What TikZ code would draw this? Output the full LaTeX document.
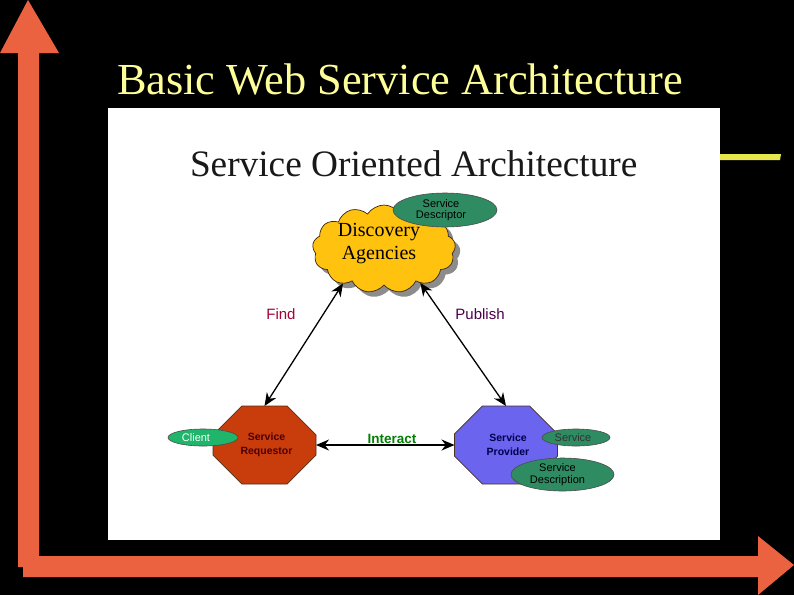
\documentclass[tikz,border=0pt]{standalone}
\usepackage{fontspec}
\setmainfont{Liberation Serif}
\setsansfont{Liberation Sans}
\usetikzlibrary{shapes.geometric, shapes.misc, shapes.symbols, arrows.meta}
\definecolor{slidebar}{HTML}{EB6240}
\definecolor{slidetitle}{HTML}{FFFF99}
\definecolor{slideline}{HTML}{E6E64C}
\definecolor{cloudgold}{HTML}{FFC20E}
\definecolor{reqred}{HTML}{C93C0C}
\definecolor{provblue}{HTML}{6A64EE}
\definecolor{descgreen}{HTML}{2E8B62}
\definecolor{clientgreen}{HTML}{1FB56B}
\tikzset{
    every node/.style={inner sep=0pt, outer sep=0pt, align=center, text=black}
}
\tikzset{
    octa/.style={chamfered rectangle, chamfered rectangle xsep=24pt,
    	chamfered rectangle ysep=17pt, minimum width=103pt, minimum height=78pt,
    	draw=black!60!brown, line width=.8pt, font=\sffamily\bfseries\fontsize{10.5}{14}\selectfont},
    oval/.style={ellipse, draw=black!70, line width=.6pt,
    	font=\sffamily\fontsize{11}{11.5}\selectfont},
    link/.style={line width=1.3pt, {Stealth[length=13pt,width=11pt]}-{Stealth[length=13pt,width=11pt]}},
    tag/.style={font=\sffamily\fontsize{15}{17}\selectfont},
    puff/.style={cloud, cloud puffs=13, cloud puff arc=115, aspect=1.7,
    	minimum width=143pt, minimum height=88pt}
}
\begin{document}
\begin{tikzpicture}[x=1pt, y=-1pt]
	\useasboundingbox (0,0) rectangle (794,595);
	\fill[black] (0,0) rectangle (794,595);
	\fill[slideline] (720,154) -- (781,154) -- (780,160) -- (720,160) -- cycle;
	\fill[white] (108,108) rectangle (720,540);
	\fill[slidebar] (18,567) -- (18,53) -- (0,53) -- (28,0) -- (59,53) -- (39,53) -- (39,567) -- cycle;
	\fill[slidebar] (23,556) -- (758,556) -- (758,536) -- (794,565) -- (758,595) -- (758,577) -- (23,577) -- cycle;

	\node (title) [anchor=base west, text=slidetitle, font=\fontsize{44.3}{50}\selectfont] at (117,94) {Basic Web Service Architecture};
	\node (heading) [anchor=base west, text=black!90, font=\fontsize{37.3}{40}\selectfont] at (190,176) {Service Oriented Architecture};

	\node (shadow) [puff, fill=black!45] at (389,254) {};
	\node (agency) [puff, fill=cloudgold, draw=black!70!brown, line width=.7pt] at (384,249) {};
	\node (agencyname) [font=\fontsize{20}{23}\selectfont] at (379,244) {Discovery\\Agencies};
	\node (requestor) [octa, fill=reqred, text=black!70!red] at (264.5,445) {\hspace*{4pt}Service\\\hspace*{4pt}Requestor};
	\node (provider) [octa, fill=provblue, text=blue!30!black] at (506,445) {\hspace*{4pt}Service\\\hspace*{4pt}Provider};

	\node (published) [oval, fill=descgreen, minimum width=104pt, minimum height=34pt] at (445,210) {Service\hspace*{8pt}\\Descriptor\hspace*{8pt}};
	\node (client) [oval, fill=clientgreen, text=white, minimum width=70pt, minimum height=17pt] at (203,437.5) {Client\hspace*{14pt}};
	\node (service) [oval, fill=descgreen, text=black!80, minimum width=68pt, minimum height=17pt] at (576,437.5) {Service\hspace*{6pt}};
	\node (description) [oval, fill=descgreen, minimum width=103pt, minimum height=33pt] at (562.5,474.5) {Service\hspace*{10pt}\\Description\hspace*{10pt}};

	\node (find) [tag, text=purple!85!black] at (281,314) {Find};
	\node (publish) [tag, text=violet!60!black] at (480,314) {Publish};
	\node (interact) [tag, text=green!50!black, font=\sffamily\bfseries\fontsize{13.5}{15}\selectfont] at (392,439) {Interact};

	\draw (agency.220) edge [link] (requestor.north);
	\draw (agency.317) edge [link] (provider.north);
	\draw (requestor.east) edge [link] (provider.west);
\end{tikzpicture}
\end{document}
